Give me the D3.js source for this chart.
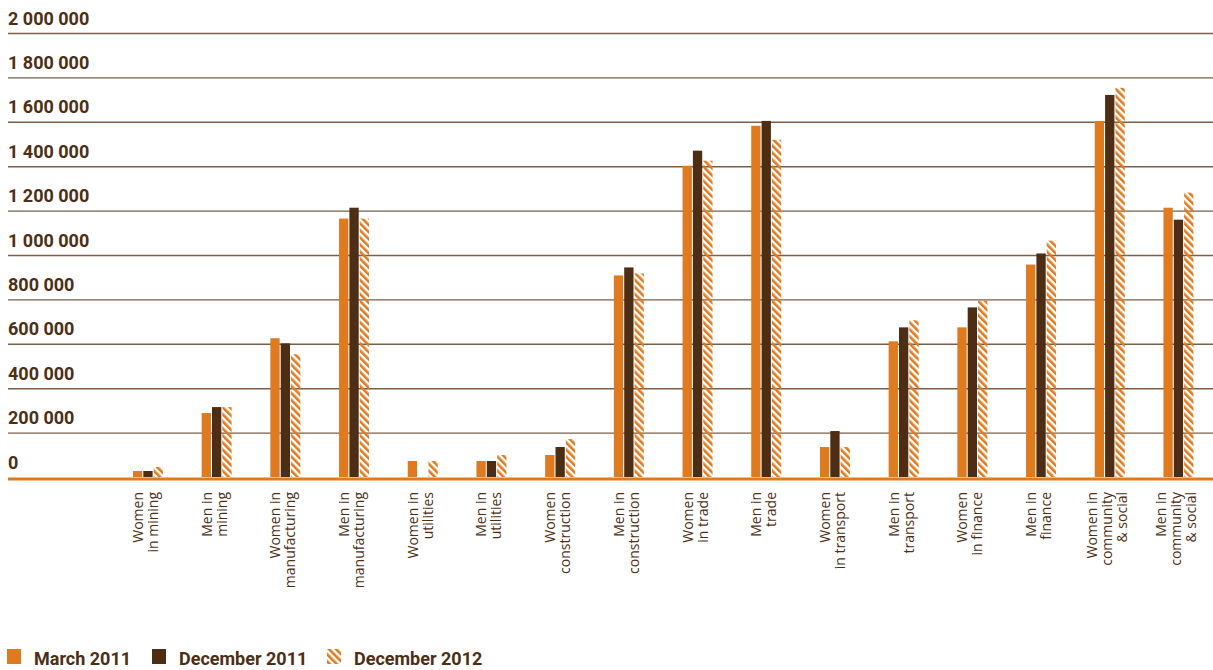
<!DOCTYPE html>
<html>
<head>
<meta charset="utf-8">
<script src="https://cdn.jsdelivr.net/npm/d3@7"></script>
<style>
  body { margin: 0; background: #fff; }
  svg { display: block; }
</style>
</head>
<body>
<svg id="chart"></svg>
<script>
// DATA
const categories = [
  ["Women", "in mining"],
  ["Men in", "mining"],
  ["Women in", "manufacturing"],
  ["Men in", "manufacturing"],
  ["Women in", "utilities"],
  ["Men in", "utilities"],
  ["Women", "construction"],
  ["Men in", "construction"],
  ["Women", "in trade"],
  ["Men in", "trade"],
  ["Women", "in transport"],
  ["Men in", "transport"],
  ["Women", "in finance"],
  ["Men in", "finance"],
  ["Women in", "community", "& social"],
  ["Men in", "community", "& social"]
]

const series = ["March 2011", "December 2011", "December 2012"]

const march2011 = [27000, 288000, 625000, 1164000, 72000, 72000, 99000, 908000, 1402000, 1582000, 135000, 611000, 674000, 957000, 1604000, 1213000]
const december2011 = [27000, 315000, 602000, 1213000, 0, 72000, 135000, 944000, 1470000, 1604000, 207000, 674000, 764000, 1007000, 1721000, 1159000]
const december2012 = [45000, 315000, 553000, 1164000, 72000, 99000, 171000, 917000, 1425000, 1519000, 135000, 706000, 795000, 1065000, 1753000, 1281000]

const yTicks = [0, 200000, 400000, 600000, 800000, 1000000, 1200000, 1400000, 1600000, 1800000, 2000000]

const orange = "#e07a1f"
const brown = "#4d2e14"
const textColor = "#4d2f15"

const width = 1213
const height = 670

const svg = d3.select("#chart").attr("width", width).attr("height", height)

// hatch pattern
const defs = svg.append("defs")
defs.append("pattern")
  .attr("id", "hatch")
  .attr("patternUnits", "userSpaceOnUse")
  .attr("width", 5)
  .attr("height", 5)
  .attr("patternTransform", "rotate(-45)")
  .append("rect")
    .attr("width", 2.6)
    .attr("height", 5)
    .attr("fill", orange)

const colors = [orange, brown, "url(#hatch)"]

const keys = categories.map(d => d.join(" "))
const values = [march2011, december2011, december2012]

const x = d3.scaleBand()
  .domain(keys)
  .range([113.6, 1212.8])
  .padding(0)

const xInner = d3.scaleBand()
  .domain(series)
  .range([-15, 15])
  .paddingInner(0.1)

const y = d3.scaleLinear()
  .domain([0, 2000000])
  .range([477, 33])

const fmt = d => d3.format(",")(d).replace(/,/g, " ")

// gridlines + labels
const yAxis = svg.append("g")
  .attr("class", "y-axis")
  .call(d3.axisRight(y).tickValues(yTicks).tickSize(width - 8).tickFormat(fmt))
  .attr("transform", "translate(8,0)")

yAxis.select(".domain").remove()
yAxis.selectAll(".tick line")
  .attr("stroke", d => d === 0 ? orange : "#7c5f49")
  .attr("stroke-width", d => d === 0 ? 3 : 1.4)
  .attr("transform", d => d === 0 ? "translate(0,1.5)" : null)
yAxis.selectAll(".tick text")
  .attr("x", 0)
  .attr("dy", -9)
  .attr("text-anchor", "start")
  .attr("fill", textColor)
  .style("font-family", "Roboto, sans-serif")
  .style("font-weight", "700")
  .style("font-size", "18px")

// bars
const rows = keys.map((k, i) => ({ key: k, vals: series.map((s, j) => ({ s: s, j: j, v: values[j][i] })) }))

svg.append("g")
  .selectAll("g")
  .data(rows)
  .join("g")
    .attr("transform", d => "translate(" + (x(d.key) + x.bandwidth() / 2) + ",0)")
  .selectAll("rect")
  .data(d => d.vals.filter(e => e.v > 0))
  .join("rect")
    .attr("x", d => xInner(d.s))
    .attr("y", d => y(d.v))
    .attr("width", xInner.bandwidth())
    .attr("height", d => y(0) - y(d.v))
    .attr("fill", d => colors[d.j])

// x labels
const lineGap = 15
svg.append("g")
  .selectAll("text")
  .data(categories)
  .join("text")
    .attr("transform", (d, i) => "translate(" + (x(keys[i]) + x.bandwidth() / 2 + 2.5) + ",492) rotate(-90)")
    .attr("text-anchor", "end")
    .attr("fill", textColor)
    .style("font-family", "'Open Sans', sans-serif")
    .style("font-size", "14px")
    .selectAll("tspan")
    .data(d => d.map((t, k) => ({ t: t, off: (k - (d.length - 1) / 2) * lineGap })))
    .join("tspan")
      .attr("x", 0)
      .attr("y", d => d.off)
      .text(d => d.t)

// legend
const legendX = [7, 152, 327]
const legend = svg.append("g")
  .selectAll("g")
  .data(series)
  .join("g")
    .attr("transform", (d, i) => "translate(" + legendX[i] + ",649)")

legend.append("rect")
  .attr("width", 14)
  .attr("height", 15)
  .attr("fill", (d, i) => colors[i])

legend.append("text")
  .attr("x", 27)
  .attr("y", 16)
  .attr("fill", textColor)
  .style("font-family", "Roboto, sans-serif")
  .style("font-weight", "700")
  .style("font-size", "18px")
  .text(d => d)
</script>
</body>
</html>
